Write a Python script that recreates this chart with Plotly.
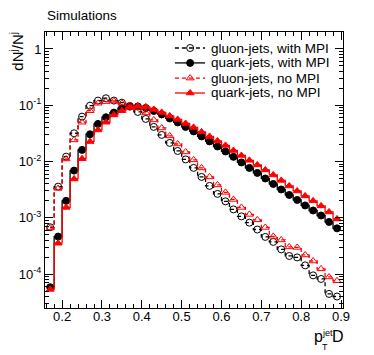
import plotly.graph_objects as go

# bin centres of p_T^jet D (bin width 0.02)
ptd = [round(0.17 + 0.02 * i, 2) for i in range(37)]

gluon_mpi = [6.8e-4, 3.58e-3, 1.22e-2, 3.18e-2, 6.28e-2, 9.84e-2, 0.121, 0.133, 0.121, 0.111,
             0.0972, 0.076, 0.0571, 0.0412, 0.0297, 0.0214, 0.0154, 0.0109, 7.7e-3, 5.33e-3,
             3.69e-3, 2.66e-3, 1.96e-3, 1.41e-3, 1.06e-3, 8.2e-4, 6.2e-4, 4.58e-4, 3.73e-4, 2.75e-4,
             2.1e-4, 1.98e-4, 1.43e-4, 9.5e-5, 8.2e-5, 4.45e-5, 4.0e-5]
quark_mpi = [5.85e-5, 4.64e-4, 2.0e-3, 6.9e-3, 0.0161, 0.0305, 0.0466, 0.0612, 0.074, 0.0885,
             0.0945, 0.095, 0.0895, 0.0792, 0.0687, 0.0583, 0.0495, 0.0412, 0.0343, 0.0279,
             0.0228, 0.0185, 0.0151, 0.0121, 9.64e-3, 7.7e-3, 6.28e-3, 5.0e-3, 4.0e-3, 3.19e-3,
             2.55e-3, 2.08e-3, 1.66e-3, 1.35e-3, 1.10e-3, 8.45e-4, 6.5e-4]
gluon_nompi = [6.6e-4, 3.33e-3, 1.11e-2, 2.42e-2, 4.99e-2, 0.080, 0.1085, 0.116, 0.119, 0.1085,
               0.0992, 0.0895, 0.073, 0.0548, 0.0395, 0.0285, 0.0205, 0.0148, 0.0107, 7.7e-3,
               5.33e-3, 3.84e-3, 2.83e-3, 2.12e-3, 1.53e-3, 1.15e-3, 9.2e-4, 6.75e-4, 4.68e-4, 4.05e-4,
               3.04e-4, 2.98e-4, 2.19e-4, 1.71e-4, 1.24e-4, 8.9e-5, 7.6e-5]
quark_nompi = [5.35e-5, 3.54e-4, 1.53e-3, 4.9e-3, 0.0112, 0.0226, 0.0364, 0.0499, 0.0673, 0.080,
               0.0914, 0.0972, 0.0933, 0.0842, 0.0745, 0.0646, 0.0560, 0.0475, 0.0404, 0.0336,
               0.0279, 0.0232, 0.0193, 0.0157, 0.0128, 0.0105, 8.7e-3, 7.1e-3, 5.78e-3, 4.62e-3,
               3.69e-3, 3.0e-3, 2.45e-3, 2.0e-3, 1.63e-3, 1.27e-3, 9.55e-4]

y_tickvals = [1e-4, 1e-3, 1e-2, 1e-1, 1]
y_ticktext = ["10<sup>-4</sup>", "10<sup>-3</sup>", "10<sup>-2</sup>", "10<sup>-1</sup>", "1"]
x_tickvals = [0.2, 0.3, 0.4, 0.5, 0.6, 0.7, 0.8, 0.9]

X_RANGE = [0.157, 0.905]
LOGY_RANGE = [-4.602, 0.301]

# minor ticks: 2..9 in each decade, every 0.02 along x
y_minor = [m * 10.0 ** e for e in range(-5, 1) for m in range(2, 10)]
x_minor = [round(0.16 + 0.02 * i, 2) for i in range(38)]

FONT = "Liberation Sans, Arial, sans-serif"
DASH = "4px,3px"

series = [
    ("gluon-jets, with MPI", gluon_mpi, "black", DASH, "circle-open"),
    ("quark-jets, with MPI", quark_mpi, "black", "solid", "circle"),
    ("gluon-jets, no MPI", gluon_nompi, "red", DASH, "triangle-up-open"),
    ("quark-jets, no MPI", quark_nompi, "red", "solid", "triangle-up"),
]

fig = go.Figure()
for name, vals, col, dash, sym in series:
    fig.add_trace(go.Scatter(
        x=ptd, y=vals, name=name, showlegend=False,
        mode="lines+markers",
        line=dict(color=col, width=1.3, dash=dash, shape="hvh"),
        marker=dict(symbol=sym, size=7, color=col, line=dict(color=col, width=1)),
    ))

# ROOT-style legend with tight rows: line sample + marker + label
leg_rows = [0.942, 0.888, 0.833, 0.779]   # fraction of plot height
leg_x0, leg_xm, leg_x1, leg_tx = 0.436, 0.487, 0.537, 0.55
for (name, _, col, dash, sym), ry in zip(series, leg_rows):
    fig.add_shape(type="line", xref="x domain", yref="y domain",
                  x0=leg_x0, x1=leg_x1, y0=ry, y1=ry,
                  line=dict(color=col, width=1.3, dash=dash))
    fig.add_trace(go.Scatter(
        x=[X_RANGE[0] + leg_xm * (X_RANGE[1] - X_RANGE[0])],
        y=[10 ** (LOGY_RANGE[0] + ry * (LOGY_RANGE[1] - LOGY_RANGE[0]))],
        mode="markers", showlegend=False, hoverinfo="skip",
        marker=dict(symbol=sym, size=7, color=col, line=dict(color=col, width=1)),
    ))
    fig.add_annotation(text=name, x=leg_tx, y=ry, xref="x domain", yref="y domain",
                       xanchor="left", yanchor="middle", showarrow=False,
                       font=dict(size=13.5))

fig.update_layout(
    width=366, height=347,
    margin=dict(l=37, r=31, t=24, b=47),
    paper_bgcolor="white", plot_bgcolor="white",
    font=dict(family=FONT, size=13, color="black"),
    showlegend=False,
    xaxis=dict(
        range=X_RANGE,
        tickvals=x_tickvals, ticktext=[f"{v:.1f}" for v in x_tickvals],
        ticks="inside", ticklen=8, tickcolor="black", ticklabelstandoff=-4,
        minor=dict(tickmode="array", tickvals=x_minor, ticks="inside", ticklen=4,
                   tickcolor="black", showgrid=False),
        showline=True, linecolor="black", linewidth=1, mirror="ticks",
        showgrid=False, zeroline=False,
        tickfont=dict(size=13),
    ),
    yaxis=dict(
        type="log",
        range=LOGY_RANGE,
        tickvals=y_tickvals, ticktext=y_ticktext,
        ticks="inside", ticklen=8, tickcolor="black",
        minor=dict(tickmode="array", tickvals=y_minor, ticks="inside", ticklen=4,
                   tickcolor="black", showgrid=False),
        showline=True, linecolor="black", linewidth=1, mirror="ticks",
        showgrid=False, zeroline=False,
        tickfont=dict(size=13),
    ),
)

fig.add_annotation(text="Simulations", x=0.0, y=1.0, xref="paper", yref="paper",
                   xanchor="left", yanchor="bottom", yshift=7, showarrow=False,
                   font=dict(size=13.5))
fig.add_annotation(text="dN<sup>j</sup>/N<sup>j</sup>", x=-0.097, y=1.007, xref="paper", yref="paper",
                   xanchor="center", yanchor="top", textangle=-90, showarrow=False,
                   font=dict(size=15))
# x title: p_T^jet D (stacked sub/superscript)
fig.add_annotation(text="p", x=0.918, y=-0.105, xref="paper", yref="paper",
                   xanchor="center", yanchor="middle", showarrow=False, font=dict(size=16))
fig.add_annotation(text="jet", x=0.948, y=-0.090, xref="paper", yref="paper",
                   xanchor="center", yanchor="middle", showarrow=False, font=dict(size=9))
fig.add_annotation(text="T", x=0.938, y=-0.143, xref="paper", yref="paper",
                   xanchor="center", yanchor="middle", showarrow=False, font=dict(size=9))
fig.add_annotation(text="D", x=0.982, y=-0.105, xref="paper", yref="paper",
                   xanchor="center", yanchor="middle", showarrow=False, font=dict(size=16))

fig.write_html("out.html")
